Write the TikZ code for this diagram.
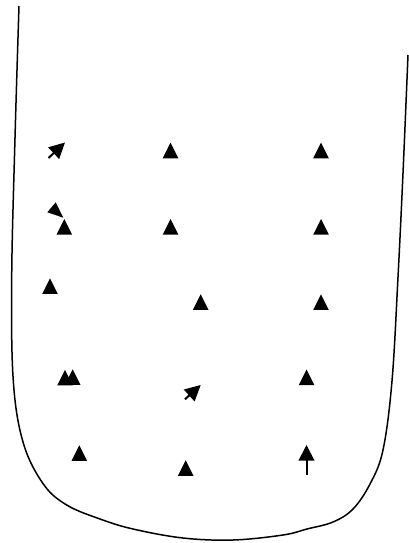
\documentclass[tikz,border=0pt]{standalone}
\usetikzlibrary{arrows.meta}
\newcommand\uptri[2]{\fill[black] (#1,#2) -- ++(-7.8,15.6) -- ++(15.6,0) -- cycle;}
\tikzset{
  wall/.style={line width=1.5pt, black},
  vec/.style={line width=2pt, black, -{Triangle[length=15.6pt,width=15.6pt]}}
}
\begin{document}
\begin{tikzpicture}[x=1pt,y=-1pt]
\useasboundingbox (0,0) rectangle (409,543);
% container wall
\draw[wall] plot[smooth, tension=0.6] coordinates {
 (19,6) (15,138) (11.7,277) (13.3,381) (23.3,443) (43.3,484) (66.7,505)
 (100,519) (133,529) (183,538) (233,540) (283,535) (307,529) (333,522)
 (353,509) (370,484) (383,450) (392,381) (398,277) (403,173) (408,55)};
% row 1
\coordinate (a1t) at (48.5,158); \coordinate (a1h) at (65,142.5);
\draw[vec] (a1t) -- (a1h);
\uptri{170.5}{142.7}
\uptri{321}{142.7}
% row 2
\fill[black] (55.7,202.3) -- (47.3,212.3) -- (63.3,217.7) -- cycle;
\uptri{64.3}{219}
\uptri{170.5}{219}
\uptri{321}{219}
% row 3
\uptri{50}{278.3}
\uptri{200.7}{294.3}
\uptri{321}{294.3}
% row 4
\uptri{65}{369.8}
\uptri{72.7}{369.3}
\coordinate (a4t) at (185,399.3); \coordinate (a4h) at (200.7,385);
\draw[vec] (a4t) -- (a4h);
\uptri{306.5}{369.5}
% row 5
\uptri{79.3}{445.3}
\uptri{185.7}{460.2}
\coordinate (a5t) at (306.5,475); \coordinate (a5h) at (306.5,445);
\draw[vec] (a5t) -- (a5h);
\end{tikzpicture}
\end{document}
